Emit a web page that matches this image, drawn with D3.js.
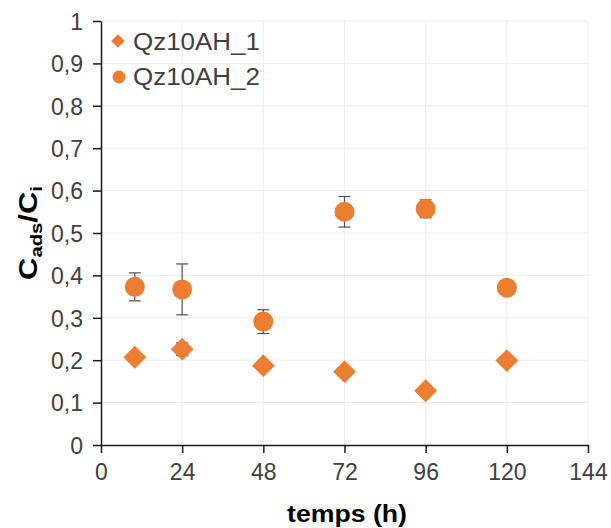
<!DOCTYPE html>
<html><head><meta charset="utf-8">
<script src="https://cdn.jsdelivr.net/npm/d3@7"></script>
<style>body{margin:0;background:#fff}svg{display:block}</style>
</head><body>
<svg id="c" width="611" height="528"></svg>
<script>
const times = [10, 24, 48, 72, 96, 120];
const series1Name = "Qz10AH_1";
const series1 = [0.207, 0.226, 0.187, 0.173, 0.128, 0.199];
const series1Err = [0, 0.015, 0, 0, 0, 0];
const series2Name = "Qz10AH_2";
const series2 = [0.373, 0.367, 0.291, 0.550, 0.557, 0.371];
const series2Err = [0.033, 0.06, 0.028, 0.036, 0.021, 0.008];
const xTicks = [0, 24, 48, 72, 96, 120, 144];
const yTicks = [0, 0.1, 0.2, 0.3, 0.4, 0.5, 0.6, 0.7, 0.8, 0.9, 1];
const xTitle = "temps (h)";

const color = "#ED7D31";
const font = "'Liberation Sans', Arial, sans-serif";
const svg = d3.select("#c");
const x = d3.scaleLinear().domain([0, 144]).range([101, 588]);
const y = d3.scaleLinear().domain([0, 1]).range([445, 21]);
const fmt = v => String(+v.toFixed(1)).replace(".", ",");

// grid
svg.append("g").selectAll("line").data(yTicks.slice(1)).join("line")
  .attr("x1", x(0)).attr("x2", x(144)).attr("y1", d => y(d)).attr("y2", d => y(d))
  .attr("stroke", "#ececec").attr("stroke-width", 1);
svg.append("g").selectAll("line").data(xTicks.slice(1)).join("line")
  .attr("y1", y(0)).attr("y2", y(1)).attr("x1", d => x(d)).attr("x2", d => x(d))
  .attr("stroke", "#ececec").attr("stroke-width", 1);

// axes
const xAxis = svg.append("g").attr("transform", `translate(0,${y(0)})`)
  .call(d3.axisBottom(x).tickValues(xTicks).tickSize(8).tickSizeOuter(0).tickPadding(5));
const yAxis = svg.append("g").attr("transform", `translate(${x(0)},0)`)
  .call(d3.axisLeft(y).tickValues(yTicks).tickFormat(fmt).tickSize(8).tickSizeOuter(0).tickPadding(10));
[xAxis, yAxis].forEach(g => {
  g.select(".domain").attr("stroke", "#1a1a1a").attr("stroke-width", 1.5);
  g.selectAll(".tick line").attr("stroke", "#1a1a1a").attr("stroke-width", 1.5);
  g.selectAll(".tick text").attr("fill", "#404040")
    .style("font-family", font).style("font-size", "23px");
});
xAxis.selectAll(".tick text").attr("dy", "0.95em");
yAxis.selectAll(".tick text").attr("dy", "0.36em");

// error bars
function errBars(vals, errs) {
  const g = svg.append("g").attr("stroke", "#505050").attr("stroke-width", 1.2);
  vals.forEach((v, i) => {
    if (!errs[i]) return;
    const cx = x(times[i]);
    g.append("line").attr("x1", cx).attr("x2", cx).attr("y1", y(v + errs[i])).attr("y2", y(v - errs[i]));
    [v + errs[i], v - errs[i]].forEach(e => g.append("line")
      .attr("x1", cx - 6).attr("x2", cx + 6).attr("y1", y(e)).attr("y2", y(e)));
  });
}
errBars(series1, series1Err);
errBars(series2, series2Err);

// markers
const diamond = d3.symbol().type(d3.symbolSquare).size(260);
svg.append("g").selectAll("path").data(series1).join("path")
  .attr("d", diamond())
  .attr("transform", (d, i) => `translate(${x(times[i])},${y(d)}) rotate(45)`)
  .attr("fill", color);
svg.append("g").selectAll("circle").data(series2).join("circle")
  .attr("cx", (d, i) => x(times[i])).attr("cy", d => y(d)).attr("r", 10)
  .attr("fill", color);

// legend
const lg = svg.append("g").style("font-family", font);
lg.append("path").attr("d", d3.symbol().type(d3.symbolSquare).size(90)())
  .attr("transform", "translate(118,41) rotate(45)").attr("fill", color);
lg.append("circle").attr("cx", 119).attr("cy", 77).attr("r", 6.5).attr("fill", color);
[[series1Name, 50], [series2Name, 85]].forEach(([t, yy]) =>
  lg.append("text").attr("x", 133).attr("y", yy).text(t)
    .attr("textLength", 127).attr("lengthAdjust", "spacingAndGlyphs")
    .attr("fill", "#404040").style("font-size", "23px"));

// titles
svg.append("text").attr("x", 287).attr("y", 522)
  .attr("textLength", 120).attr("lengthAdjust", "spacingAndGlyphs")
  .style("font-family", font).style("font-size", "24px")
  .style("font-weight", "bold").attr("fill", "#000").text(xTitle);

const yt = svg.append("text").attr("transform", "translate(37,280) rotate(-90)")
  .attr("textLength", 94).attr("lengthAdjust", "spacingAndGlyphs")
  .style("font-family", font).style("font-size", "26px")
  .style("font-weight", "bold").attr("fill", "#000");
yt.append("tspan").text("C");
yt.append("tspan").attr("dy", 5).style("font-size", "17px").text("ads");
yt.append("tspan").attr("dy", -5).text("/C");
yt.append("tspan").attr("dy", 5).style("font-size", "17px").text("i");
</script>
</body></html>
